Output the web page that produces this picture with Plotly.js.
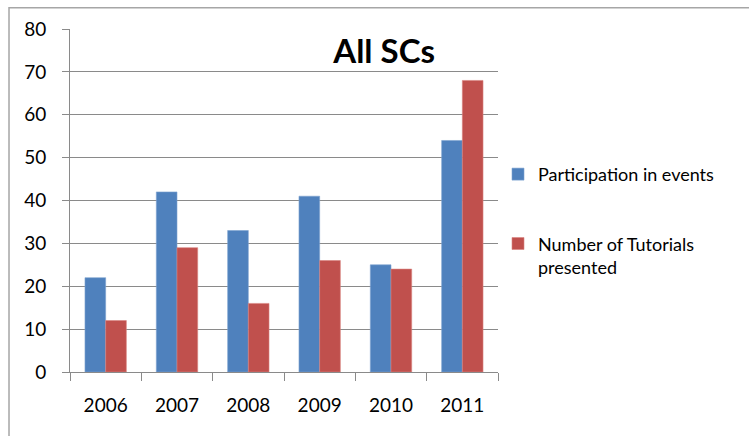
<!DOCTYPE html>
<html>
<head>
<meta charset="utf-8">
<script src="https://cdn.plot.ly/plotly-3.0.1.min.js"></script>
<style>html,body{margin:0;padding:0;background:#fff;}#chart{width:749px;height:436px;}</style>
</head>
<body>
<div id="chart"></div>
<script>
const years = ["2006", "2007", "2008", "2009", "2010", "2011"];
const participation = [22, 42, 33, 41, 25, 54];
const tutorials = [12, 29, 16, 26, 24, 68];
const seriesNames = ["Participation in events", "Number of Tutorials<br>presented"];
const yTicks = [0, 10, 20, 30, 40, 50, 60, 70, 80];

const font = "Lato, 'Open Sans', sans-serif";
const gridColor = "#8a8a8a";

const data = [
  {type: "bar", x: years, y: participation, name: seriesNames[0], legendgroup: "a",
   marker: {color: "#4F81BD", line: {color: "#7ea3d0", width: 0.6}}},
  {type: "bar", x: years, y: tutorials, name: seriesNames[1], legendgroup: "b",
   marker: {color: "#C0504D", line: {color: "#d98380", width: 0.6}}}
];

const layout = {
  width: 749, height: 436,
  margin: {l: 70, r: 251, t: 29, b: 64, pad: 0},
  paper_bgcolor: "#fff", plot_bgcolor: "#fff",
  font: {family: font, size: 18, color: "#000"},
  barmode: "group", bargap: 0.42, bargroupgap: 0,
  showlegend: true,
  title: {text: "<b>All SCs</b>", font: {family: font, size: 33, color: "#000"},
          xref: "paper", x: 0.734, xanchor: "center", yref: "container", y: 0.883, yanchor: "middle"},
  xaxis: {type: "category", showgrid: false, showline: true, linecolor: gridColor, linewidth: 1,
          ticks: "outside", ticklen: 8, tickcolor: gridColor, tickson: "boundaries",
          ticklabelstandoff: 16, tickfont: {family: font, size: 19, color: "#000"}, fixedrange: true},
  yaxis: {range: [0, 80], tickvals: yTicks, showgrid: true, gridcolor: gridColor, gridwidth: 1,
          showline: true, linecolor: gridColor, linewidth: 1, zeroline: false,
          ticks: "outside", ticklen: 7, tickcolor: gridColor, ticklabelstandoff: 12,
          tickfont: {family: font, size: 19, color: "#000"}, fixedrange: true},
  legend: {x: 1.0, xanchor: "left", y: 0.63, yanchor: "top", xref: "paper", yref: "paper",
           font: {family: font, size: 18, color: "#000"}, tracegroupgap: 43, valign: "top",
           bgcolor: "rgba(0,0,0,0)", traceorder: "grouped"},
  shapes: [
    {type: "rect", xref: "paper", yref: "paper", x0: -0.1425, x1: 1.7, y0: -0.3, y1: 1.062,
     line: {color: "#a6a6a6", width: 1.5}, fillcolor: "rgba(0,0,0,0)", layer: "below"}
  ]
};

Plotly.newPlot("chart", data, layout, {displayModeBar: false, staticPlot: true});
</script>
</body>
</html>
